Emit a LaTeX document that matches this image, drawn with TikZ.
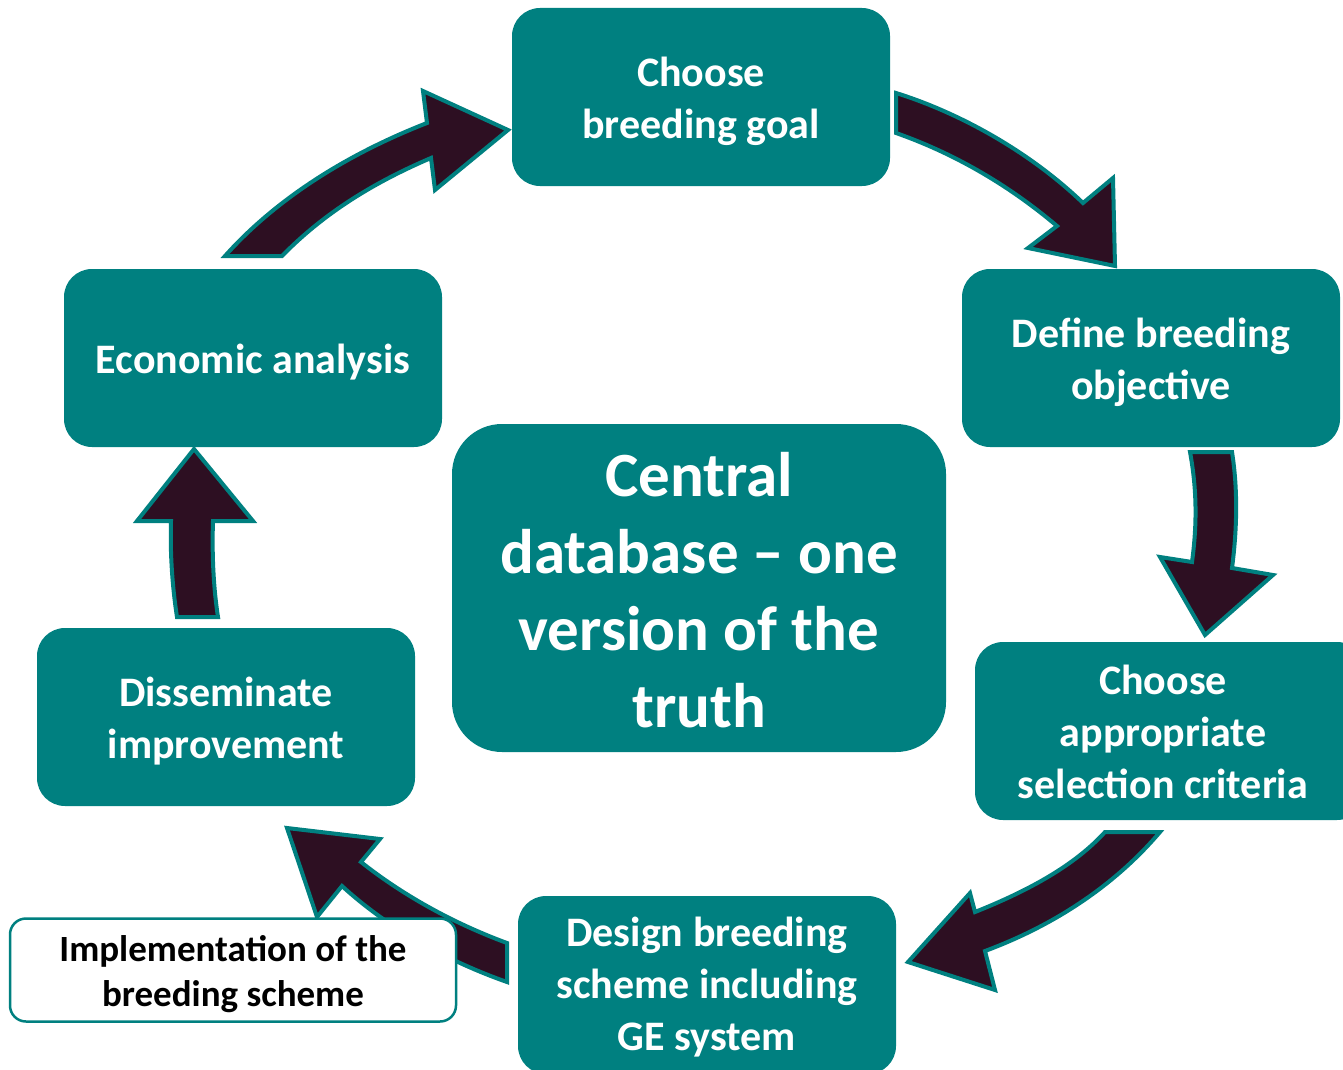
\documentclass[tikz,border=0pt]{standalone}
\usepackage{fontspec}
\setmainfont{Carlito}
\definecolor{boxteal}{RGB}{0,128,128}
\definecolor{arrowdark}{RGB}{45,15,34}
\begin{document}
\begin{tikzpicture}[x=1pt,y=-1pt,
  stepbox/.style={fill=boxteal, rounded corners=28pt, inner sep=0pt,
    minimum width=378pt, minimum height=178pt},
  steptext/.style={text=white, align=center, inner sep=0pt,
    font=\bfseries\fontsize{42}{52}\selectfont},
  blockarrow/.style={fill=arrowdark, draw=boxteal, line width=4pt, line join=miter}]
\useasboundingbox (0,0) rectangle (1343,1070);

% cycle of steps
\node[stepbox] (goal) at (701,97) {};
\node[stepbox] (objective) at (1151,358) {};
\node[stepbox, minimum width=390pt] (criteria) at (1170,731) {};
\node[stepbox] (design) at (707,985) {};
\node[stepbox] (dissem) at (226,717) {};
\node[stepbox] (econ) at (253,358) {};

\node[steptext] (goaltext) at (701,101) {Choose\\breeding goal};
\node[steptext] (objtext) at (1151,362) {Define breeding\\objective};
\node[steptext] (crittext) at (1163,732) {Choose\\appropriate\\selection criteria};
\node[steptext] (designtext) at (707,987) {Design breeding\\scheme including\\GE system};
\node[steptext] (dissemtext) at (226,721) {Disseminate\\improvement};
\node[steptext] (econtext) at (253,362) {Economic analysis};

% hub
\node[stepbox, rounded corners=50pt, minimum width=494pt, minimum height=328pt] (central) at (699,588) {};
\node[steptext, font=\bfseries\fontsize{63}{77}\selectfont] (centraltext) at (699,590)
  {Central\\database -- one\\version of the\\truth};

% block arrows between the steps
\draw[blockarrow] (896,93) .. controls (960,113) and (1030,152) .. (1083,203)
  -- (1113,178) -- (1115,266) -- (1028,248) -- (1057,226)
  .. controls (1005,182) and (950,152) .. (896,133) -- cycle;
\draw[blockarrow] (1190,452) -- (1232,452) .. controls (1238,490) and (1237,530) .. (1232,568)
  -- (1273,575) -- (1205,635) -- (1160,557) -- (1192,562)
  .. controls (1197,525) and (1197,490) .. (1190,452) -- cycle;
\draw[blockarrow] (1105,832) -- (1160,832) .. controls (1115,885) and (1055,925) .. (985,951)
  -- (995,990) -- (908,962) -- (970,893) -- (975,912)
  .. controls (1030,890) and (1075,865) .. (1105,832) -- cycle;
\draw[blockarrow] (507,943) .. controls (450,922) and (400,893) .. (361,862)
  -- (380,839) -- (287,828) -- (317,917) -- (342,886)
  .. controls (390,930) and (450,962) .. (507,982) -- cycle;
\draw[blockarrow] (177,617) -- (218,617) .. controls (213,585) and (212,550) .. (213,521)
  -- (253,521) -- (194,449) -- (137,521) -- (171,521)
  .. controls (170,550) and (172,585) .. (177,617) -- cycle;
\draw[blockarrow] (225,256) -- (282,256) .. controls (325,212) and (375,182) .. (431,158)
  -- (435,190) -- (508,130) -- (423,91) -- (427,123)
  .. controls (345,155) and (275,200) .. (225,256) -- cycle;

% note box
\node[draw=boxteal, fill=white, line width=2.5pt, rounded corners=16pt,
  minimum width=446pt, minimum height=103pt, inner sep=0pt] (impl) at (233,970) {};
\node[align=center, inner sep=0pt, font=\bfseries\fontsize{37}{45}\selectfont] (impltext) at (233,974)
  {Implementation of the\\breeding scheme};
\end{tikzpicture}
\end{document}
